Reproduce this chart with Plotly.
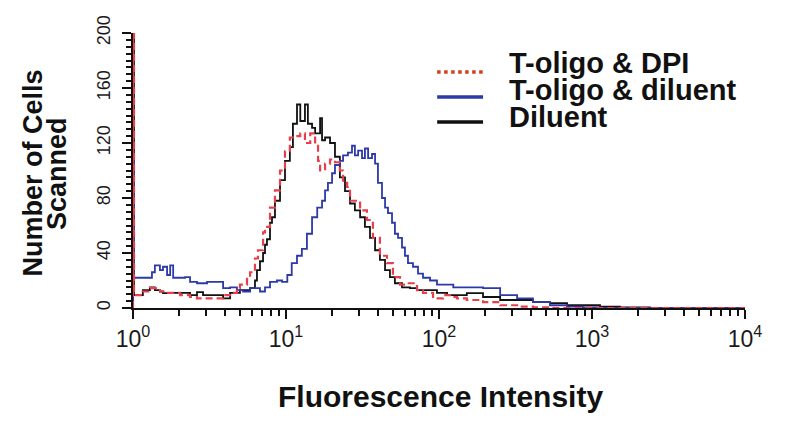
import plotly.graph_objects as go

# ---- data ----
diluent_x = [1, 1, 1.015, 1.16, 1.29, 1.39, 1.50, 1.57, 1.83, 2.03, 2.36, 2.62, 2.87, 3.54, 3.88, 4.31, 5.0, 5.82,
             6.27, 6.46, 6.76, 7.08, 7.29, 7.51, 7.86, 8.1, 8.47, 9.14, 9.85, 10.6, 11.1, 11.8, 12.4, 13.3, 13.9,
             14.8, 15.5, 16.7, 17.2, 18.0, 19.4, 20.9, 22.5, 24.3, 26.2, 28.2, 30.5, 32.8, 35.4, 38.2, 41.1, 44.4,
             47.8, 51.5, 57.3, 64.6, 71.8, 83.5, 97.0, 113, 131, 152, 194, 251, 324, 411, 531, 687, 873, 1128,
             1523, 2393, 10000]
diluent_y = [0, 200, 9.4, 13, 15, 13, 12, 10.8, 11, 11, 9.4, 11.6, 9.4, 9.4, 7, 11, 13, 14.5,
             20, 27.5, 34, 40, 46, 50, 62, 66, 78, 93, 107, 117, 134, 148, 136, 148, 134,
             131, 127, 138, 122, 124, 120, 110, 95, 85, 76, 71, 66, 59, 51, 42, 35, 27.5,
             22.5, 18, 15, 14.5, 13, 13, 11, 9.4, 9.4, 10.8, 8, 5.8, 5.8, 4.3, 3.6, 2, 2, 1,
             0.5, 0, 0]

dpi_x = [1, 1, 1.015, 1.16, 1.29, 1.50, 1.67, 2.03, 2.36, 2.62, 3.33, 3.88, 4.31, 4.78, 5.0, 5.56, 5.82, 6.27,
         6.56, 7.08, 7.29, 7.86, 8.47, 9.14, 9.85, 10.6, 11.5, 12.4, 13.3, 14.4, 15.5, 16.2, 16.7, 18.0, 19.4,
         20.9, 22.5, 23.6, 25.1, 26.2, 30.5, 33.8, 37.0, 41.1, 45.7, 50.0, 55.6, 61.8, 71.8, 78.6, 91.4, 106,
         118, 131, 152, 194, 251, 324, 411, 531, 10000]
dpi_y = [0, 200, 9.4, 12, 14.5, 12, 11, 9.4, 8, 7, 7, 9.4, 11, 14.5, 17, 22, 26, 36,
         42, 55, 59, 73, 85.5, 100, 114, 124, 125, 127, 120, 127, 118, 107, 100, 105, 108,
         106, 100, 91, 88, 78, 71, 64, 51, 38, 32.6, 22.5, 17, 18, 13, 11, 7, 9.4,
         8, 7, 5.8, 4.3, 2, 1, 0.5, 0, 0]

toligo_x = [1, 1, 1.015, 1.25, 1.33, 1.39, 1.50, 1.57, 1.67, 1.75, 1.83, 2.03, 2.19, 2.36, 2.62, 3.05, 3.54,
            3.88, 4.31, 4.78, 5.24, 5.82, 6.76, 7.29, 7.86, 8.73, 9.42, 10.2, 10.9, 11.8, 12.7, 13.7, 14.8,
            16.0, 17.2, 18.0, 18.8, 20.0, 20.9, 22.5, 23.6, 25.4, 27.0, 28.2, 29.6, 31.4, 32.8, 34.4, 36.5,
            38.2, 39.9, 42.4, 44.4, 46.4, 49.3, 51.5, 54.0, 57.3, 59.9, 62.7, 67.6, 72.9, 78.6, 87.4, 97.0,
            109, 124, 152, 194, 251, 324, 411, 531, 687, 873, 1128, 10000]
toligo_y = [0, 110, 22, 22, 26, 31, 27.5, 30, 24, 31, 22, 22, 22.5, 19, 18, 19, 19,
            14.5, 15, 13, 12, 14.5, 12, 15, 19, 20, 19, 24, 32.6, 38, 43, 54, 66,
            73, 78, 85.5, 91, 98, 104, 107, 111, 113, 118, 111, 114.5, 109, 116, 109, 112,
            105, 91, 80, 73, 69, 62, 54, 51, 44, 38, 32.6, 30, 25, 22, 20, 17,
            17, 15, 15, 14.5, 9.4, 7, 4.3, 2, 1, 0.5, 0, 0]

x_tickvals = [1, 10, 100, 1000, 10000]
x_ticktext = ["10<sup>0</sup>", "10<sup>1</sup>", "10<sup>2</sup>", "10<sup>3</sup>", "10<sup>4</sup>"]
x_minor = [m * d for d in [1, 10, 100, 1000] for m in range(2, 10)]
y_tickvals = [0, 40, 80, 120, 160, 200]

series_names = ["T-oligo & DPI", "T-oligo & diluent", "Diluent"]
x_title = "Fluorescence Intensity"
y_title_lines = ["Number of Cells", "Scanned"]

RED = "#e8404a"
BLUE = "#2c3aa8"
BLACK = "#111111"
LEGEND_COLORS = ["#d2401e", BLUE, BLACK]
LEGEND_DASH = ["dot", "solid", "solid"]

fig = go.Figure()
fig.add_trace(go.Scatter(x=diluent_x, y=diluent_y, mode="lines", name=series_names[2],
                         line=dict(color=BLACK, width=1.8, shape="hv"), showlegend=False))
fig.add_trace(go.Scatter(x=toligo_x, y=toligo_y, mode="lines", name=series_names[1],
                         line=dict(color=BLUE, width=1.8, shape="hv"), showlegend=False))
fig.add_trace(go.Scatter(x=dpi_x, y=dpi_y, mode="lines", name=series_names[0],
                         line=dict(color=RED, width=2.2, shape="hv", dash="7px,4px"), showlegend=False))

# ---- manual compact legend (line samples + labels) ----
leg_line_y = [0.858, 0.767, 0.676]
leg_text_y = [0.89, 0.793, 0.693]
shapes = []
annotations = []
for i, name in enumerate(series_names):
    shapes.append(dict(type="line", xref="paper", yref="paper", x0=0.497, x1=0.572,
                       y0=leg_line_y[i], y1=leg_line_y[i],
                       line=dict(color=LEGEND_COLORS[i], width=3.5, dash=LEGEND_DASH[i])))
    annotations.append(dict(text="<b>" + name.replace("&", "&amp;") + "</b>", xref="paper", yref="paper",
                            x=0.611, y=leg_text_y[i], xanchor="left", yanchor="middle", showarrow=False,
                            font=dict(size=29, color="#111", family="Liberation Sans, Arial, sans-serif")))

# axis titles
annotations.append(dict(text="<b>" + x_title + "</b>", xref="paper", yref="paper", x=0.502, y=-0.322,
                        xanchor="center", yanchor="middle", showarrow=False,
                        font=dict(size=30, color="#111", family="Liberation Sans, Arial, sans-serif")))
for xp, line_text in zip([-0.163, -0.123], y_title_lines):
    annotations.append(dict(text="<b>" + line_text + "</b>", xref="paper", yref="paper", x=xp, y=0.49,
                            xanchor="center", yanchor="middle", showarrow=False, textangle=-90,
                            font=dict(size=27, color="#111", family="Liberation Sans, Arial, sans-serif")))

XTICKFONT = dict(family="Liberation Sans Narrow, Arial Narrow, Liberation Sans, Arial, sans-serif", size=23, color="#1a1a1a")
YTICKFONT = dict(family="Liberation Sans Narrow, Arial Narrow, Liberation Sans, Arial, sans-serif", size=18, color="#1a1a1a")

fig.update_layout(
    width=800, height=429,
    margin=dict(l=125, r=63, t=25, b=129, autoexpand=False),
    paper_bgcolor="white", plot_bgcolor="white",
    font=dict(family="Liberation Sans, Arial, sans-serif", color="#111"),
    showlegend=False,
    shapes=shapes,
    annotations=annotations,
    xaxis=dict(type="log", range=[0, 4], tickmode="array", tickvals=x_tickvals, ticktext=x_ticktext,
               showgrid=False, zeroline=False, showline=True, linecolor="#111", linewidth=2,
               ticks="outside", ticklen=9, tickwidth=2, tickcolor="#111", tickfont=XTICKFONT,
               minor=dict(tickmode="array", tickvals=x_minor, ticks="outside", ticklen=6, tickwidth=2,
                          tickcolor="#111", showgrid=False)),
    yaxis=dict(range=[0, 200], tickmode="array", tickvals=y_tickvals, tickangle=-90,
               showgrid=False, zeroline=False, showline=True, linecolor="#111", linewidth=2,
               ticks="outside", ticklen=9, tickwidth=2, tickcolor="#111", tickfont=YTICKFONT,
               ticklabelstandoff=5,
               minor=dict(dtick=5, ticks="outside", ticklen=5, tickwidth=1.5, tickcolor="#111", showgrid=False)),
)

fig.write_html("out.html")
